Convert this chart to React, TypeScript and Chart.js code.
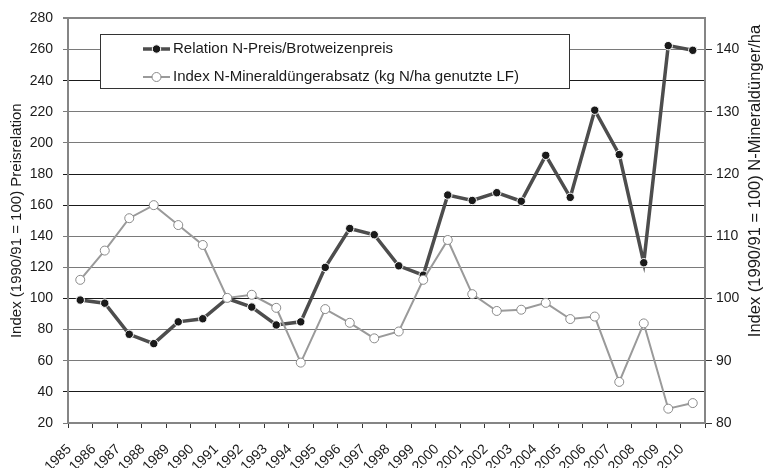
import React, { useEffect, useRef } from "react";
import { Chart, registerables } from "chart.js";

Chart.register(...registerables);

const years = [
  "1985", "1986", "1987", "1988", "1989", "1990", "1991", "1992", "1993",
  "1994", "1995", "1996", "1997", "1998", "1999", "2000", "2001", "2002",
  "2003", "2004", "2005", "2006", "2007", "2008", "2009", "2010",
];

const preisRelation = [
  99, 97, 77, 71, 85, 87, 100, 94.5, 83, 85, 120, 145, 141, 121, 115, 166.5,
  163, 168, 162.5, 192, 165, 221, 192.5, 123, 262.5, 259.5,
];

const mineralduengerIndex = [
  103, 107.7, 112.9, 115, 111.8, 108.6, 100.1, 100.6, 98.5, 89.7, 98.3, 96.1,
  93.6, 94.7, 103, 109.4, 100.7, 98, 98.2, 99.3, 96.7, 97.1, 86.6, 96, 82.3,
  83.2,
];

const leftTicks = { min: 20, max: 280, step: 20 };
const rightTickValues = [80, 90, 100, 110, 120, 130, 140];
const rightRange = { min: 80, max: 145 };

const seriesNames = [
  "Relation N-Preis/Brotweizenpreis",
  "Index N-Mineraldüngerabsatz (kg N/ha genutzte LF)",
];
const leftTitle = "Index (1990/91 = 100) Preisrelation";
const rightTitle = "Index (1990/91 = 100) N-Mineraldünger/ha";

const FONT = "'Liberation Sans', Arial, Helvetica, sans-serif";
const DARK_LINE = "#4d4d4d";
const DARK_POINT = "#1a1a1a";
const LIGHT_LINE = "#9a9a9a";
const TEXT = "#1a1a1a";
const AXIS = "#858585";
const blackGrid = [240, 180, 160, 100, 40];

const overlayPlugin = {
  id: "overlay",
  afterDatasetsDraw(chart: any) {
    const ctx = chart.ctx;
    ctx.save();
    // legend box
    const bx = 100.5, by = 34.5, bw = 469, bh = 54;
    ctx.fillStyle = "#fff";
    ctx.fillRect(bx, by, bw, bh);
    ctx.strokeStyle = "#333";
    ctx.lineWidth = 1;
    ctx.strokeRect(bx, by, bw, bh);

    const rows = [49, 77];
    const sx0 = 143, sx1 = 170, cx = 156.5;
    // row 1
    ctx.strokeStyle = DARK_LINE;
    ctx.lineWidth = 3.5;
    ctx.beginPath();
    ctx.moveTo(sx0, rows[0]);
    ctx.lineTo(sx1, rows[0]);
    ctx.stroke();
    ctx.fillStyle = DARK_POINT;
    ctx.strokeStyle = "#fff";
    ctx.lineWidth = 1;
    ctx.beginPath();
    ctx.arc(cx, rows[0], 4.2, 0, Math.PI * 2);
    ctx.fill();
    ctx.stroke();
    // row 2
    ctx.strokeStyle = LIGHT_LINE;
    ctx.lineWidth = 2;
    ctx.beginPath();
    ctx.moveTo(sx0, rows[1]);
    ctx.lineTo(sx1, rows[1]);
    ctx.stroke();
    ctx.fillStyle = "#fff";
    ctx.strokeStyle = "#8a8a8a";
    ctx.lineWidth = 1;
    ctx.beginPath();
    ctx.arc(cx, rows[1], 4.5, 0, Math.PI * 2);
    ctx.fill();
    ctx.stroke();

    ctx.fillStyle = TEXT;
    ctx.font = `15px ${FONT}`;
    ctx.textAlign = "left";
    ctx.textBaseline = "middle";
    ctx.fillText(seriesNames[0], 173, rows[0]);
    ctx.fillText(seriesNames[1], 173, rows[1]);
    ctx.restore();
  },
  afterDraw(chart: any) {
    const ctx = chart.ctx;
    const area = chart.chartArea;
    ctx.save();
    ctx.fillStyle = TEXT;
    ctx.textAlign = "center";
    ctx.textBaseline = "middle";
    ctx.font = `15px ${FONT}`;
    ctx.translate(16.5, (area.top + area.bottom) / 2);
    ctx.rotate(-Math.PI / 2);
    ctx.fillText(leftTitle, 0, 0);
    ctx.restore();

    ctx.save();
    ctx.fillStyle = TEXT;
    ctx.textAlign = "center";
    ctx.textBaseline = "middle";
    ctx.font = `16.5px ${FONT}`;
    ctx.translate(755.5, 181);
    ctx.rotate(-Math.PI / 2);
    ctx.fillText(rightTitle, 0, 0);
    ctx.restore();
  },
};

export default function App() {
  const canvasRef = useRef<HTMLCanvasElement | null>(null);

  useEffect(() => {
    if (!canvasRef.current) return;
    const chart = new Chart(canvasRef.current, {
      type: "line",
      data: {
        labels: years,
        datasets: [
          {
            label: seriesNames[0],
            data: preisRelation,
            yAxisID: "y",
            order: 2,
            borderColor: DARK_LINE,
            borderWidth: 3.5,
            pointBackgroundColor: DARK_POINT,
            pointBorderColor: "#fff",
            pointBorderWidth: 1,
            pointRadius: 4.2,
            tension: 0,
          },
          {
            label: seriesNames[1],
            data: mineralduengerIndex,
            yAxisID: "y1",
            order: 1,
            borderColor: LIGHT_LINE,
            borderWidth: 2,
            pointBackgroundColor: "#fff",
            pointBorderColor: "#8a8a8a",
            pointBorderWidth: 1,
            pointRadius: 4.5,
            tension: 0,
          },
        ],
      },
      options: {
        responsive: false,
        animation: false,
        layout: { padding: { top: 16, left: 0, right: 0, bottom: 0 } },
        plugins: {
          legend: { display: false },
          tooltip: { enabled: false },
          title: { display: false },
        },
        scales: {
          x: {
            type: "category",
            offset: true,
            grid: {
              display: true,
              drawOnChartArea: false,
              offset: true,
              tickLength: 5,
              color: "#333",
            },
            border: { color: AXIS, width: 2 },
            ticks: {
              minRotation: 45,
              maxRotation: 45,
              autoSkip: false,
              labelOffset: -11,
              padding: 13,
              color: TEXT,
              font: { family: FONT, size: 14 },
            },
            afterFit: (s: any) => {
              s.height = 45;
            },
          },
          y: {
            position: "left",
            min: leftTicks.min,
            max: leftTicks.max,
            ticks: {
              stepSize: leftTicks.step,
              padding: 10,
              color: TEXT,
              font: { family: FONT, size: 14 },
            },
            grid: {
              tickLength: 5,
              color: (c: any) =>
                c.tick && c.tick.value === leftTicks.max
                  ? AXIS
                  : c.tick && blackGrid.includes(c.tick.value)
                  ? "#1a1a1a"
                  : "#7a7a7a",
              lineWidth: (c: any) =>
                c.tick && c.tick.value === leftTicks.max ? 2 : 1,
            },
            border: { color: AXIS, width: 2 },
            afterFit: (s: any) => {
              s.width = 68;
            },
          },
          y1: {
            position: "right",
            min: rightRange.min,
            max: rightRange.max,
            afterBuildTicks: (s: any) => {
              s.ticks = rightTickValues.map((v) => ({ value: v }));
            },
            ticks: {
              padding: 4,
              color: TEXT,
              font: { family: FONT, size: 14 },
            },
            grid: {
              drawOnChartArea: false,
              tickLength: 7,
              color: "#333",
            },
            border: { color: AXIS, width: 2 },
            afterFit: (s: any) => {
              s.width = 58;
            },
          },
        },
      },
      plugins: [overlayPlugin],
    });
    return () => chart.destroy();
  }, []);

  return (
    <div style={{ position: "absolute", left: 0, top: 0, width: 763, height: 468, background: "#fff" }}>
      <canvas ref={canvasRef} width={763} height={468} style={{ display: "block" }} />
    </div>
  );
}
